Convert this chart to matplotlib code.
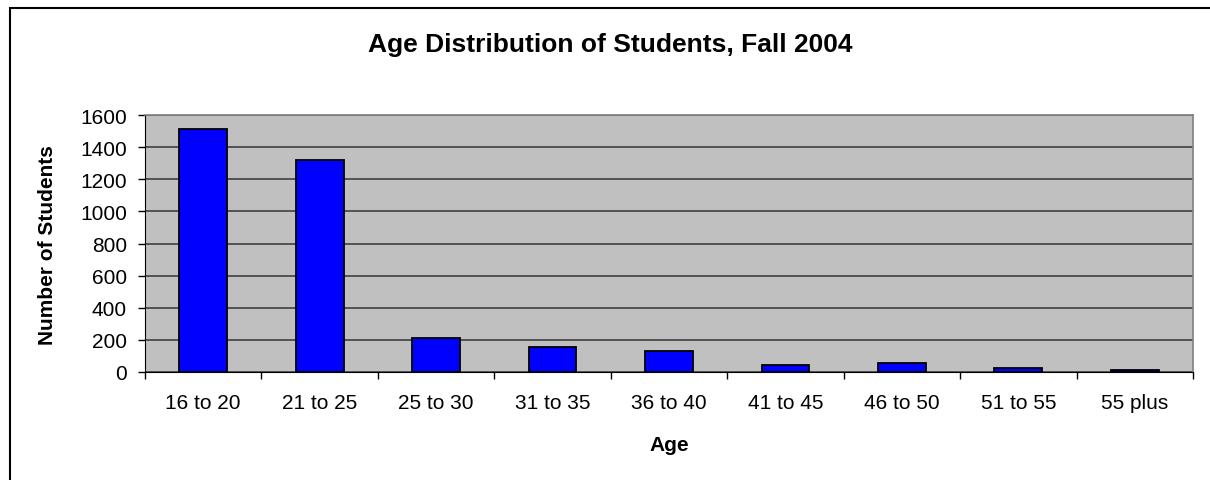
import numpy as np
import matplotlib
matplotlib.use("Agg")
import matplotlib.pyplot as plt
from matplotlib.patches import Rectangle

plt.rcParams['font.family'] = ['Liberation Sans', 'DejaVu Sans']

# 数据
age_groups = ["16 to 20", "21 to 25", "25 to 30", "31 to 35", "36 to 40",
              "41 to 45", "46 to 50", "51 to 55", "55 plus"]
students = [1513, 1322, 210, 155, 133, 45, 58, 22, 13]
y_ticks = [0, 200, 400, 600, 800, 1000, 1200, 1400, 1600]

W, H = 1210, 481
fig = plt.figure(figsize=(W/100, H/100), dpi=100)
ax = fig.add_axes([145/W, 1-373/H, (1193-145)/W, (373-116)/H])

# 外框
fig.patches.append(Rectangle((10/W, -0.1), 1.1, 1-9/H+0.1, transform=fig.transFigure,
                             fill=False, edgecolor="black", linewidth=1.5))

x = np.arange(len(age_groups))
ax.set_facecolor("#C0C0C0")
ax.bar(x, students, width=0.41, color="#0000FF", edgecolor="black", linewidth=1.3, zorder=3)

ax.set_xlim(-0.5, len(age_groups) - 0.5)
ax.set_ylim(0, 1600)
ax.set_yticks(y_ticks)
ax.yaxis.grid(True, color="#404040", linewidth=1.2, zorder=0)
ax.set_axisbelow(True)

ax.set_xticks(x)
ax.set_xticklabels(age_groups)
ax.set_xticks(np.arange(-0.5, len(age_groups)), minor=True)
ax.tick_params(axis="x", which="major", length=0, labelsize=15, pad=15)
ax.tick_params(axis="x", which="minor", length=5, width=1, color="black")
ax.tick_params(axis="y", length=5, width=1, labelsize=15, pad=8)

for side in ["top", "right"]:
    ax.spines[side].set_color("#808080")
    ax.spines[side].set_linewidth(1.2)
ax.spines["left"].set_color("black")
ax.spines["bottom"].set_color("black")

ax.set_xlabel("Age", fontsize=15, fontweight="bold")
ax.xaxis.set_label_coords(669/W, 1-436/H, transform=fig.transFigure)
ax.set_ylabel("Number of Students", fontsize=15, fontweight="bold")
ax.yaxis.set_label_coords(57/W, 1-245/H, transform=fig.transFigure)

fig.text(610/W, 1-52/H, "Age Distribution of Students, Fall 2004",
         ha="center", va="baseline", fontsize=19, fontweight="bold")

fig.savefig("out.png", dpi=100)
